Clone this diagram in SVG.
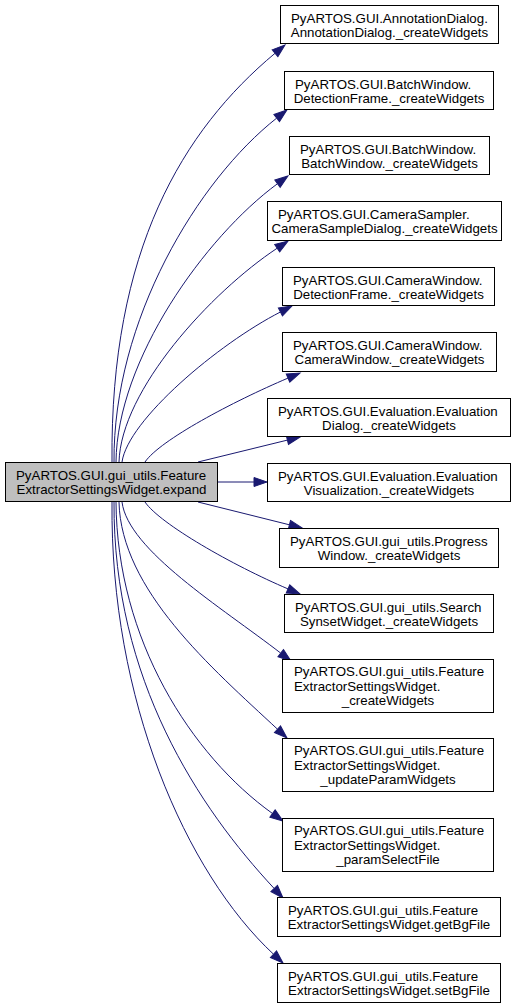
<svg xmlns="http://www.w3.org/2000/svg" width="517" height="1008" viewBox="0 0 517 1008">
<style>
.n rect{fill:#ffffff;stroke:#000000;stroke-width:1}
#main rect{fill:#bfbfbf}
.n text{font-family:"Liberation Sans",Arial,Helvetica,sans-serif;font-size:13.3px;fill:#000000}
.c{text-anchor:middle}
#edges path{fill:none;stroke:#191970;stroke-width:1;marker-end:url(#ah)}
</style>
<defs>
<marker id="ah" markerUnits="userSpaceOnUse" markerWidth="14" markerHeight="10" viewBox="0 -5 14 10" refX="0" refY="0" orient="auto" overflow="visible">
<path d="M0,-4.5 L13,0 L0,4.5 Z" fill="#191970" stroke="#191970" stroke-width="1"/>
</marker>
</defs>
<rect width="517" height="1008" fill="#ffffff"/>
<g id="edges">
<path d="M112,462 C110,250 183,130 275,53.3"/>
<path d="M114,462 C113,320 198,180 276.7,118.1"/>
<path d="M116,462 C117,360 205,237 277.5,183.7"/>
<path d="M119,462 C121,390 211,292 277.2,248.2"/>
<path d="M122,462 C128,420 218,344 280.4,312"/>
<path d="M145,462 C160,440 233,401.5 288,378.1"/>
<path d="M198,462 L287.4,440.1"/>
<path d="M218,482 L254,482"/>
<path d="M198,502 L289.4,524.8"/>
<path d="M145,502 C160,524 233,565.5 288,588.9"/>
<path d="M122,502 C128,550 221.5,607.4 280.7,653.1"/>
<path d="M119,502 C121,590 211.8,668 277.5,729.2"/>
<path d="M116,502 C117,640 191.5,755.5 272.5,813.5"/>
<path d="M114,502 C113,680 199.4,808.2 274.2,888.5"/>
<path d="M112,502 C110,700 185.9,872.6 273.5,954.2"/>
</g>
<g id="main" class="n"><rect x="5.5" y="462.5" width="212" height="39"/>
<text x="16" y="479.5">PyARTOS.GUI.gui_utils.Feature</text>
<text class="c" x="111.5" y="494">ExtractorSettingsWidget.expand</text></g>
<g id="n1" class="n"><rect x="280.5" y="5.5" width="218" height="38"/>
<text x="291" y="22.5">PyARTOS.GUI.AnnotationDialog.</text>
<text class="c" x="389.5" y="37">AnnotationDialog._createWidgets</text></g>
<g id="n2" class="n"><rect x="284.5" y="71.5" width="209" height="38"/>
<text x="295" y="88.5">PyARTOS.GUI.BatchWindow.</text>
<text class="c" x="389" y="103">DetectionFrame._createWidgets</text></g>
<g id="n3" class="n"><rect x="289.5" y="136.5" width="200" height="38"/>
<text x="300" y="153.5">PyARTOS.GUI.BatchWindow.</text>
<text class="c" x="389.5" y="168">BatchWindow._createWidgets</text></g>
<g id="n4" class="n"><rect x="267.5" y="201.5" width="234" height="39"/>
<text x="278" y="218.5">PyARTOS.GUI.CameraSampler.</text>
<text class="c" x="384.5" y="233">CameraSampleDialog._createWidgets</text></g>
<g id="n5" class="n"><rect x="282.5" y="267.5" width="212" height="38"/>
<text x="293" y="284.5">PyARTOS.GUI.CameraWindow.</text>
<text class="c" x="388.5" y="299">DetectionFrame._createWidgets</text></g>
<g id="n6" class="n"><rect x="282.5" y="332.5" width="214" height="39"/>
<text x="293" y="349.5">PyARTOS.GUI.CameraWindow.</text>
<text class="c" x="389.5" y="364">CameraWindow._createWidgets</text></g>
<g id="n7" class="n"><rect x="267.5" y="398.5" width="243" height="38"/>
<text x="278" y="415.5">PyARTOS.GUI.Evaluation.Evaluation</text>
<text class="c" x="389" y="430">Dialog._createWidgets</text></g>
<g id="n8" class="n"><rect x="267.5" y="463.5" width="243" height="38"/>
<text x="278" y="480.5">PyARTOS.GUI.Evaluation.Evaluation</text>
<text class="c" x="389" y="495">Visualization._createWidgets</text></g>
<g id="n9" class="n"><rect x="279.5" y="528.5" width="219" height="39"/>
<text x="290" y="545.5">PyARTOS.GUI.gui_utils.Progress</text>
<text class="c" x="389" y="560">Window._createWidgets</text></g>
<g id="n10" class="n"><rect x="284.5" y="594.5" width="209" height="38"/>
<text x="295" y="611.5">PyARTOS.GUI.gui_utils.Search</text>
<text class="c" x="389" y="626">SynsetWidget._createWidgets</text></g>
<g id="n11" class="n"><rect x="282.5" y="659.5" width="211" height="53"/>
<text x="294" y="676">PyARTOS.GUI.gui_utils.Feature</text>
<text x="294" y="690.5">ExtractorSettingsWidget.</text>
<text class="c" x="388" y="705">_createWidgets</text></g>
<g id="n12" class="n"><rect x="282.5" y="738.5" width="211" height="53"/>
<text x="294" y="755">PyARTOS.GUI.gui_utils.Feature</text>
<text x="294" y="769.5">ExtractorSettingsWidget.</text>
<text class="c" x="388" y="784">_updateParamWidgets</text></g>
<g id="n13" class="n"><rect x="282.5" y="818.5" width="211" height="53"/>
<text x="294" y="835">PyARTOS.GUI.gui_utils.Feature</text>
<text x="294" y="849.5">ExtractorSettingsWidget.</text>
<text class="c" x="388" y="864">_paramSelectFile</text></g>
<g id="n14" class="n"><rect x="277.5" y="897.5" width="223" height="39"/>
<text x="288" y="914.5">PyARTOS.GUI.gui_utils.Feature</text>
<text class="c" x="389" y="929">ExtractorSettingsWidget.getBgFile</text></g>
<g id="n15" class="n"><rect x="277.5" y="963.5" width="223" height="39"/>
<text x="288" y="980.5">PyARTOS.GUI.gui_utils.Feature</text>
<text class="c" x="389" y="995">ExtractorSettingsWidget.setBgFile</text></g>
</svg>
